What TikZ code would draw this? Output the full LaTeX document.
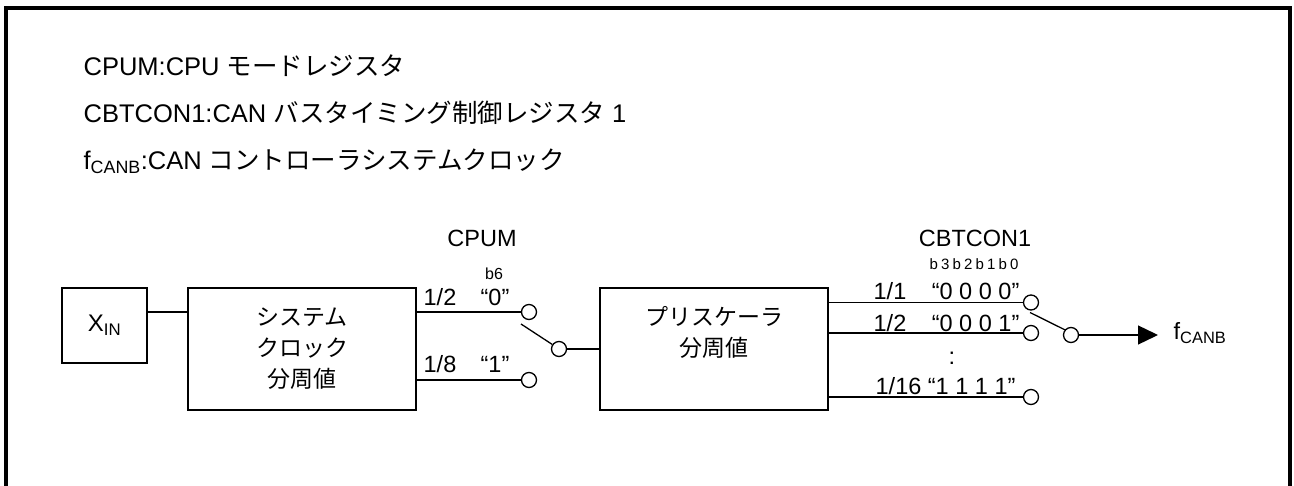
\documentclass[tikz,border=0pt]{standalone}
\usepackage{fontspec}
\setmainfont{Liberation Sans}
\newfontfamily\jp{Noto Sans CJK JP}
\usetikzlibrary{arrows.meta,calc}
\newcommand{\J}[1]{{\jp #1}}
\begin{document}
\begin{tikzpicture}[x=1pt,y=-1pt, line width=1.3pt,
  blk/.style={draw, rectangle, inner sep=0pt, align=center},
  sw/.style={draw, circle, minimum size=15pt, inner sep=0pt, fill=white},
  lbl/.style={inner sep=0pt, font=\fontsize{23.5}{28}\selectfont},
  ttl/.style={inner sep=0pt, anchor=base west, font=\fontsize{25.5}{30}\selectfont},
  small/.style={inner sep=0pt, anchor=base, font=\fontsize{16}{18}\selectfont},
  jtxt/.style={inner sep=0pt, align=center, font=\jp\fontsize{23}{31}\selectfont}]
\useasboundingbox (0,0) rectangle (1294,486);
\draw[line width=4pt] (6,490) -- (6,8) -- (1290,8) -- (1290,490);

% legend
\node[ttl] (t1) at (83,76) {CPUM:CPU \J{モードレジスタ}};
\node[ttl] (t2) at (83,123) {CBTCON1:CAN \J{バスタイミング制御レジスタ} 1};
\node[ttl] (t3) at (83,170) {f\textsubscript{CANB}:CAN \J{コントローラシステムクロック}};

% blocks
\node[blk, minimum width=85pt, minimum height=75pt, font=\fontsize{24}{28}\selectfont] (xin) at (104.5,325.5) {X\textsubscript{IN}};
\node[blk, minimum width=228pt, minimum height=122pt] (sys) at (302,349) {};
\node[jtxt] (systxt) at (302,349) {システム\\クロック\\分周値};
\node[blk, minimum width=228pt, minimum height=122pt] (pre) at (714,349) {};
\node[jtxt] (pretxt) at (714,332.5) {プリスケーラ\\分周値};

\coordinate (ya) at (0,312);
\draw (xin.east |- ya) -- (sys.west |- ya);

% CPUM switch
\node[sw] (c0) at (529,312) {};
\node[sw] (c1) at (529,380) {};
\node[sw] (cc) at (559,349) {};
\draw (sys.east |- c0) -- (c0.west);
\draw (sys.east |- c1) -- (c1.west);
\draw ($(c0)+(-8,12)$) -- (cc.146);
\draw (cc.east) -- (pre.west |- cc);

\node[lbl, anchor=base] (cpum) at (482,247) {CPUM};
\node[small] (b6) at (494,280) {b6};
\node[lbl, anchor=base west] (l12) at (423,306) {1/2};
\node[lbl, anchor=base] (q0) at (495,306) {“0”};
\node[lbl, anchor=base west] (l18) at (423,373) {1/8};
\node[lbl, anchor=base] (q1) at (495,373) {“1”};

% CBTCON1 switch
\node[sw] (r1) at (1031,302.5) {};
\node[sw] (r2) at (1031,333) {};
\node[sw] (r3) at (1031,397) {};
\node[sw] (rc) at (1071,335) {};
\draw (pre.east |- r1) -- (r1.west);
\draw (pre.east |- r2) -- (r2.west);
\draw (pre.east |- r3) -- (r3.west);
\draw ($(r1)+(-1,10)$) -- (rc.140);
\coordinate (tip) at (1158,335);
\draw[-{Triangle[length=20pt,width=19pt]}] (rc.east) -- (tip);
\node[lbl, anchor=base west] (out) at (1173,340) {f\textsubscript{CANB}};

\node[lbl, anchor=base] (cbt) at (975,247) {CBTCON1};
\node[small, font=\fontsize{15}{18}\selectfont\addfontfeature{LetterSpace=21}] (bits) at (974,270) {b3b2b1b0};
\node[lbl, anchor=base west] (l11) at (873,300) {1/1};
\node[lbl, anchor=base east] (q0000) at (1020,300) {“0 0 0 0”};
\node[lbl, anchor=base west] (l12b) at (873,332) {1/2};
\node[lbl, anchor=base east] (q0001) at (1020,332) {“0 0 0 1”};
\node[lbl] (dots) at (952,358) {:};
\node[lbl, anchor=base west] (l116) at (875,395) {1/16 “1 1 1 1”};
\end{tikzpicture}
\end{document}
